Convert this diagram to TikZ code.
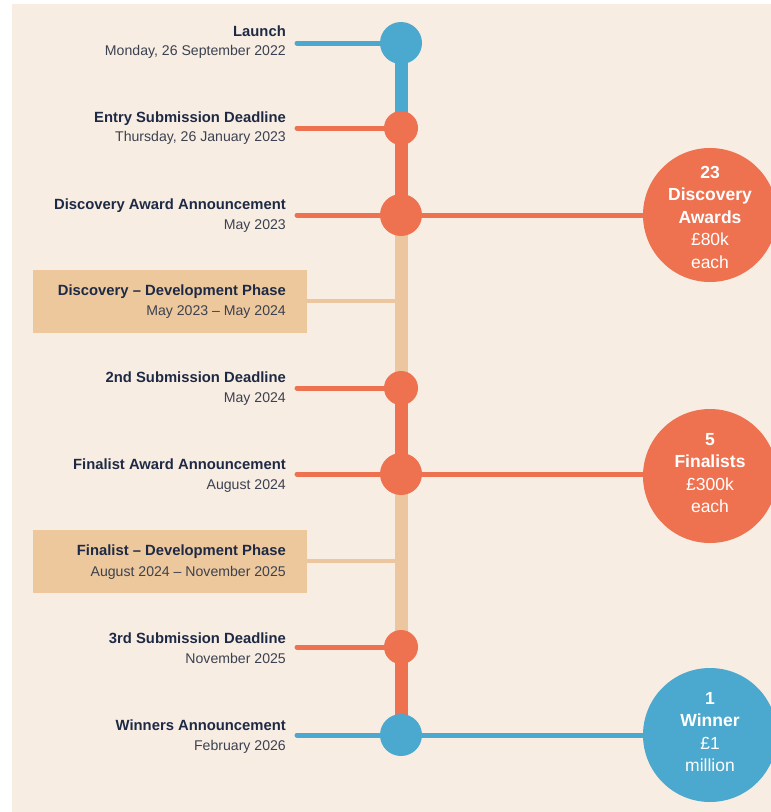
\documentclass[tikz,border=0pt]{standalone}
\usepackage{fontspec}
\setmainfont{Liberation Sans}
\pgfdeclarelayer{bg}
\pgfdeclarelayer{lines}
\pgfsetlayers{bg,lines,main}
\definecolor{bgc}{HTML}{F8EDE2}
\definecolor{orangeC}{HTML}{EE7250}
\definecolor{blueC}{HTML}{4BA8CE}
\definecolor{sandC}{HTML}{EBC69E}
\definecolor{boxC}{HTML}{EDC89C}
\definecolor{titleC}{HTML}{1E2A45}
\definecolor{dateC}{HTML}{3B4150}
\tikzset{
  ttl/.style={anchor=base east, inner sep=0pt, text=titleC, font=\fontsize{14.8}{17}\selectfont\bfseries},
  dte/.style={anchor=base east, inner sep=0pt, text=dateC, font=\fontsize{14.1}{16}\selectfont},
  tdot/.style={circle, inner sep=0pt, minimum size=#1, draw=none},
  phasebox/.style={fill=boxC, draw=none, minimum width=274pt, minimum height=63pt, inner sep=0pt},
  bigc/.style={circle, inner sep=0pt, minimum size=134pt, draw=none},
  bigt/.style={inner sep=0pt, text=white, align=center, font=\fontsize{17.5}{22.5}\selectfont},
  vseg/.style={line width=13pt},
  hconn/.style={line width=5pt, line cap=round},
  pconn/.style={line width=4.5pt, draw=sandC}
}
\begin{document}
\begin{tikzpicture}[x=1pt,y=-1pt]
\useasboundingbox (0,0) rectangle (771,812);
\clip (0,0) rectangle (771,812);
\begin{pgfonlayer}{bg}
  \fill[white] (0,0) rectangle (771,812);
  \fill[bgc] (12,4) rectangle (771,812);
\end{pgfonlayer}

% timeline dots
\node[tdot=42pt, fill=blueC]   (c1) at (401,43)  {};
\node[tdot=34pt, fill=orangeC] (c2) at (401,128) {};
\node[tdot=42pt, fill=orangeC] (c3) at (401,215) {};
\node[tdot=34pt, fill=orangeC] (c4) at (401,388) {};
\node[tdot=42pt, fill=orangeC] (c5) at (401,474) {};
\node[tdot=34pt, fill=orangeC] (c6) at (401,647) {};
\node[tdot=42pt, fill=blueC]   (c7) at (401,735) {};
\coordinate (p1) at (401,301);
\coordinate (p2) at (401,561);

% big circles
\node[bigc, fill=orangeC] (big1) at (710,215) {};
\node[bigc, fill=orangeC] (big2) at (710,476) {};
\node[bigc, fill=blueC]   (big3) at (710,735) {};
\node[bigt] (big1t) at (710,217) {\textbf{23}\\\textbf{Discovery}\\\textbf{Awards}\\£80k\\each};
\node[bigt] (big2t) at (710,473) {\textbf{5}\\\textbf{Finalists}\\£300k\\each};
\node[bigt] (big3t) at (710,732) {\textbf{1}\\\textbf{Winner}\\£1\\million};

% phase boxes
\node[phasebox] (b1) at (170,301) {};
\node[phasebox] (b2) at (170,561) {};

% labels
\node[ttl] (t1) at (286,36) {Launch};
\node[dte] (d1) at (286,55) {Monday, 26 September 2022};
\node[ttl] (t2) at (286,122) {Entry Submission Deadline};
\node[dte] (d2) at (286,141) {Thursday, 26 January 2023};
\node[ttl] (t3) at (286,209) {Discovery Award Announcement};
\node[dte] (d3) at (286,229) {May 2023};
\node[ttl] (t4) at (286,295) {Discovery – Development Phase};
\node[dte] (d4) at (286,315) {May 2023 – May 2024};
\node[ttl] (t5) at (286,382) {2nd Submission Deadline};
\node[dte] (d5) at (286,402) {May 2024};
\node[ttl] (t6) at (286,469) {Finalist Award Announcement};
\node[dte] (d6) at (286,489) {August 2024};
\node[ttl] (t7) at (286,555) {Finalist – Development Phase};
\node[dte] (d7) at (286,576) {August 2024 – November 2025};
\node[ttl] (t8) at (286,643) {3rd Submission Deadline};
\node[dte] (d8) at (286,663) {November 2025};
\node[ttl] (t9) at (286,730) {Winners Announcement};
\node[dte] (d9) at (286,750) {February 2026};

% left ends of connectors
\coordinate (l1) at (297,43);
\coordinate (l2) at (297,128);
\coordinate (l3) at (297,215);
\coordinate (l4) at (297,388);
\coordinate (l5) at (297,474);
\coordinate (l6) at (297,647);
\coordinate (l7) at (297,735);

\begin{pgfonlayer}{lines}
  \draw[pconn] (b1.east) -- (p1);
  \draw[pconn] (b2.east) -- (p2);
  \draw[vseg, draw=blueC]   (c1.center) -- (c2.center);
  \draw[vseg, draw=orangeC] (c2.center) -- (c3.center);
  \draw[vseg, draw=sandC]   (c3.center) -- (c4.center);
  \draw[vseg, draw=orangeC] (c4.center) -- (c5.center);
  \draw[vseg, draw=sandC]   (c5.center) -- (c6.center);
  \draw[vseg, draw=orangeC] (c6.center) -- (c7.center);
  \draw[hconn, draw=blueC]   (l1) -- (c1.center);
  \draw[hconn, draw=orangeC] (l2) -- (c2.center);
  \draw[hconn, draw=orangeC] (l3) -- (c3.center) -- (c3.center -| big1.center);
  \draw[hconn, draw=orangeC] (l4) -- (c4.center);
  \draw[hconn, draw=orangeC] (l5) -- (c5.center) -- (c5.center -| big2.center);
  \draw[hconn, draw=orangeC] (l6) -- (c6.center);
  \draw[hconn, draw=blueC]   (l7) -- (c7.center) -- (c7.center -| big3.center);
\end{pgfonlayer}
\end{tikzpicture}
\end{document}
